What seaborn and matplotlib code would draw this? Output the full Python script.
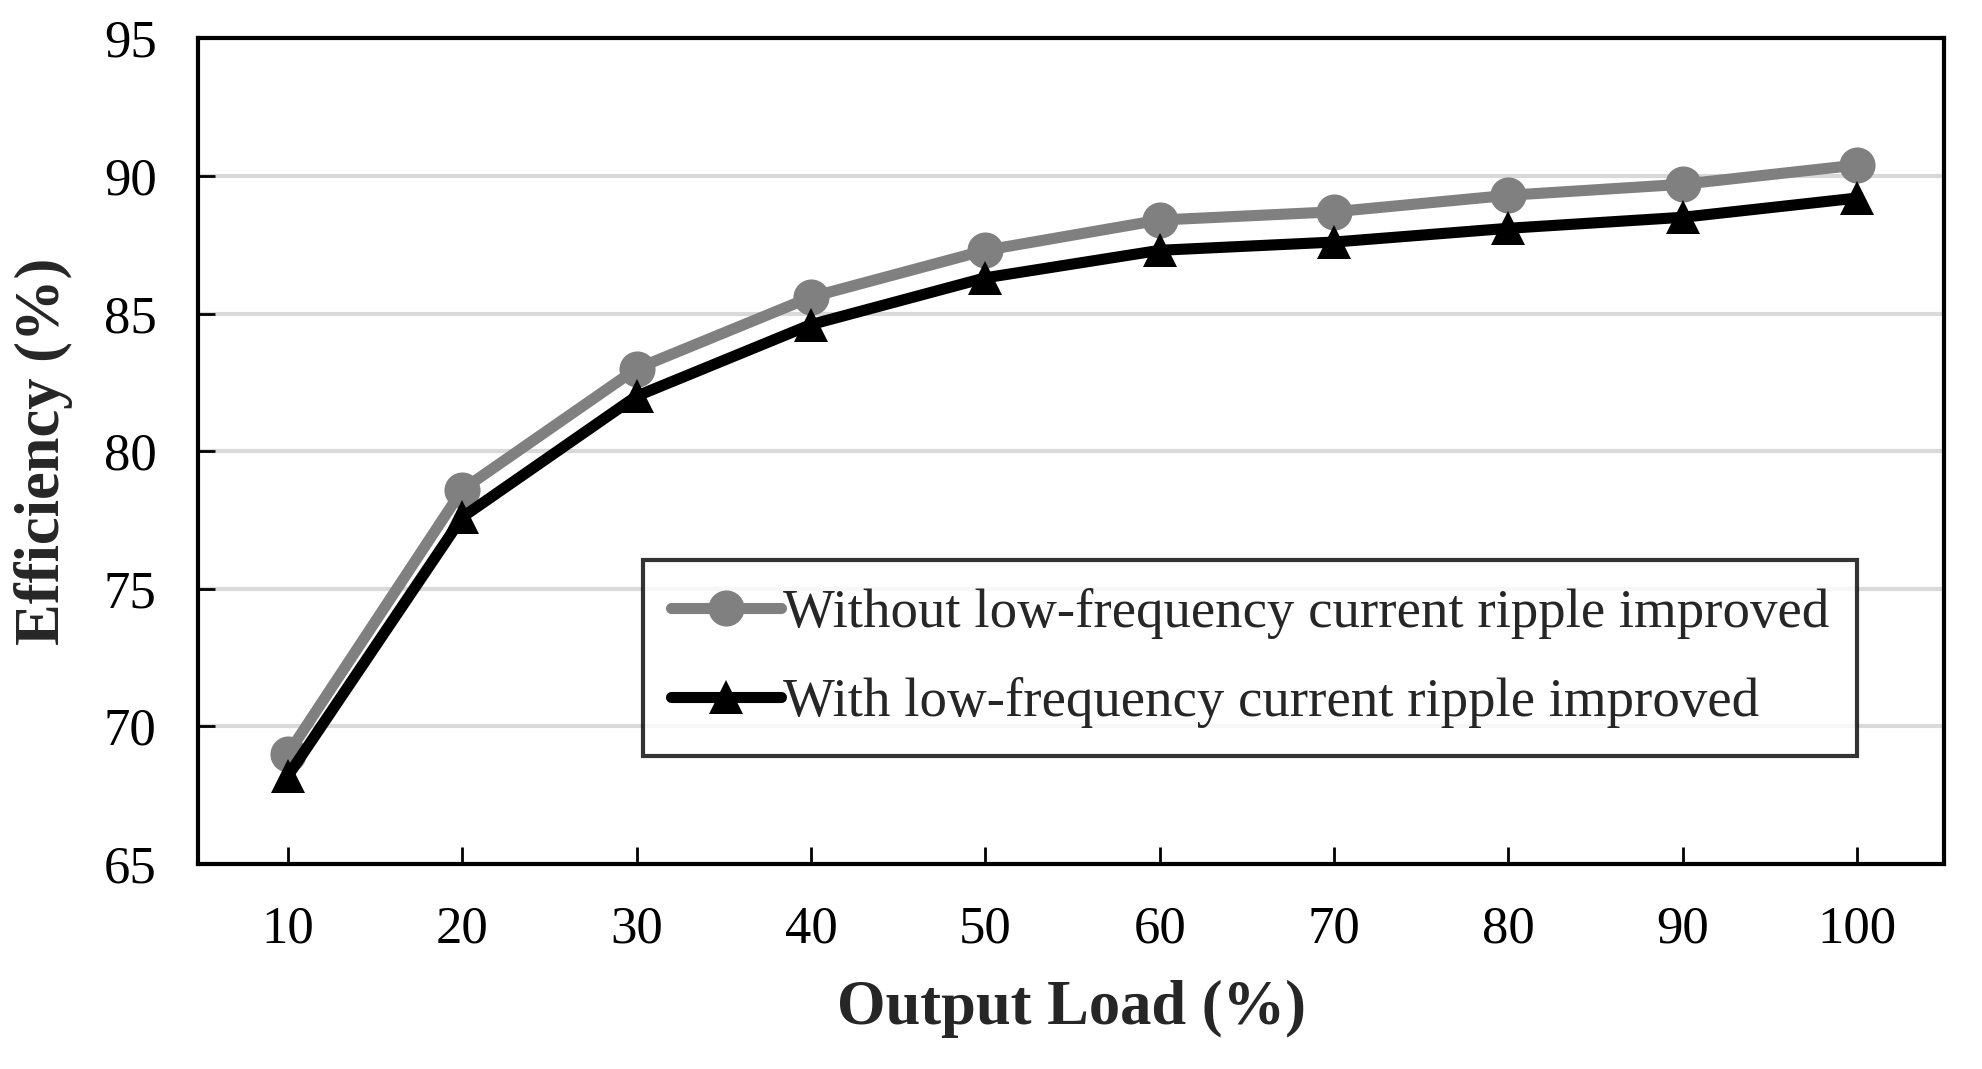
import seaborn as sns
import matplotlib.pyplot as plt
import pandas as pd

load = [10, 20, 30, 40, 50, 60, 70, 80, 90, 100]
eff_without = [69.0, 78.6, 83.0, 85.6, 87.3, 88.4, 88.7, 89.3, 89.7, 90.4]
eff_with = [68.2, 77.6, 82.0, 84.6, 86.3, 87.3, 87.6, 88.1, 88.5, 89.2]

label_without = "Without low-frequency current ripple improved"
label_with = "With low-frequency current ripple improved"


def main():
    sns.set_style("white")
    plt.rcParams["font.family"] = ["Liberation Serif", "DejaVu Serif"]

    df_without = pd.DataFrame({"load": load, "eff": eff_without})
    df_with = pd.DataFrame({"load": load, "eff": eff_with})

    fig, ax = plt.subplots(figsize=(19.82, 10.69), dpi=100)
    fig.subplots_adjust(left=0.100, right=0.981, top=0.964, bottom=0.192)

    ax.yaxis.grid(True, color="#d9d9d9", linewidth=3, zorder=0)
    ax.xaxis.grid(False)

    sns.lineplot(data=df_without, x="load", y="eff", ax=ax, color="#808080",
                 marker="o", markersize=26, markeredgewidth=0, linewidth=8,
                 label=label_without, zorder=3)
    sns.lineplot(data=df_with, x="load", y="eff", ax=ax, color="black",
                 marker="^", markersize=25, markeredgewidth=0, linewidth=8,
                 label=label_with, zorder=4)

    ax.set_xlim(4.85, 105)
    ax.set_ylim(65, 95)
    ax.set_xticks(load)
    ax.set_yticks([65, 70, 75, 80, 85, 90, 95])

    for side in ["left", "right", "top", "bottom"]:
        ax.spines[side].set_visible(True)
        ax.spines[side].set_color("black")
        ax.spines[side].set_linewidth(3)

    ax.tick_params(axis="both", direction="in", length=12, width=2,
                   labelsize=38, pad=30, colors="black")
    ax.tick_params(axis="y", left=True, right=False)
    ax.tick_params(axis="x", bottom=True, top=False)

    ax.set_xlabel("Output Load (%)", fontsize=45, fontweight="bold", labelpad=19)
    ax.set_ylabel("Efficiency (%)", fontsize=45, fontweight="bold", labelpad=22)

    leg = ax.legend(loc="upper right", bbox_to_anchor=(0.95, 0.3675),
                    fontsize=39.5, frameon=True, fancybox=False, shadow=False,
                    handlelength=2.0, handletextpad=0.05, labelspacing=0.7,
                    borderpad=0.5, borderaxespad=0)
    leg.get_frame().set_edgecolor("black")
    leg.get_frame().set_linewidth(3)

    plt.savefig("out.png", dpi=100)
    plt.close()


if __name__ == "__main__":
    main()
